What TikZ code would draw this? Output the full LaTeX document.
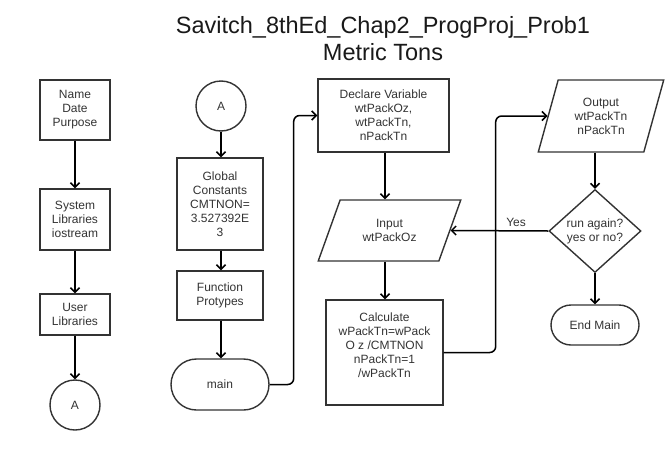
\documentclass[tikz,border=0pt]{standalone}
\usepackage{fontspec}
\setmainfont{Liberation Sans}
\usetikzlibrary{arrows.meta,shapes.geometric,shapes.misc}
\definecolor{ink}{HTML}{333333}
\begin{document}
\begin{tikzpicture}[x=1pt,y=-1pt,
  every node/.style={font=\fontsize{12}{14}\selectfont, text=ink, align=center, inner sep=2pt},
  procbox/.style={draw=ink, line width=1.4pt, rectangle},
  termbox/.style={draw=ink, line width=1.4pt, rounded rectangle},
  iobox/.style={draw=ink, line width=1.4pt, trapezium, trapezium stretches=true},
  decbox/.style={draw=ink, line width=1.4pt, diamond, inner sep=0pt},
  joint/.style={draw=ink, line width=1.4pt, circle, inner sep=0pt, minimum size=50pt},
  conn/.style={line width=1.5pt, draw=black, -{Straight Barb[length=4.5pt,width=9pt]}}
]
\useasboundingbox (0,0) rectangle (666,450);

% heading
\node[font=\fontsize{23.5}{27}\selectfont, text=black!90] (title) at (383,38.5)
  {Savitch\_8thEd\_Chap2\_ProgProj\_Prob1\\Metric Tons};

% header column
\node[procbox, minimum width=70pt, minimum height=60pt] (name) at (75,110) {Name\\Date\\Purpose};
\node[procbox, minimum width=70pt, minimum height=61pt] (sys) at (75,219.5) {System\\Libraries\\iostream};
\node[procbox, minimum width=70pt, minimum height=41pt] (user) at (75,314.5) {User\\Libraries};
\node[joint] (a1) at (75,405) {A};

% set-up column
\node[joint] (a2) at (221,106) {A};
\node[procbox, minimum width=86pt, minimum height=92pt] (glob) at (220,204)
  {Global\\Constants\\CMTNON=\\3.527392E\\3};
\node[procbox, minimum width=86pt, minimum height=49pt] (func) at (220,295.5) {Function\\Protypes};
\node[termbox, minimum width=102pt, minimum height=51pt] (main) at (220,384.5) {main};

% processing column
\node[procbox, minimum width=131pt, minimum height=73pt] (decl) at (383.5,115.5)
  {Declare Variable\\wtPackOz,\\wtPackTn,\\nPackTn};
\node[iobox, trapezium left angle=64, trapezium right angle=116,
  minimum width=143pt, minimum height=61pt] (inp) at (389.5,230.5) {Input\\wtPackOz};
\node[procbox, minimum width=117pt, minimum height=105pt, text depth=15pt] (calc) at (384.5,352.5)
  {Calculate\\wPackTn=wPack\\O z /CMTNON\\nPackTn=1\\/wPackTn};

% output column
\node[iobox, trapezium left angle=72, trapezium right angle=108,
  minimum width=126pt, minimum height=72pt] (out) at (601,116) {Output\\wtPackTn\\nPackTn};
\node[decbox, minimum width=92pt, minimum height=83pt] (dia) at (595,231) {run again?\\yes or no?};
\node[termbox, minimum width=92pt, minimum height=40pt] (endm) at (595,325) {End Main};

% connectors
\draw[conn] (name) -- (sys);
\draw[conn] (sys) -- (user);
\draw[conn] (user) -- (a1);

\draw[conn] (a2.south) -- (a2.south |- glob.north);
\draw[conn] (a2.south |- glob.south) -- (a2.south |- func.north);
\draw[conn] (a2.south |- func.south) -- (a2.south |- main.north);
\draw[conn, rounded corners=6pt] (main.east) -- ++(24,0) |- (decl.west);

\draw[conn] (385,0 |- decl.south) -- (385,0 |- inp.north);
\draw[conn] (385,0 |- inp.south) -- (385,0 |- calc.north);
\draw[conn, rounded corners=6pt] (calc.east) -- ++(52,0) |- (out.left side);

\draw[conn] (out.south -| dia.north) -- (dia.north);
\draw[conn] (dia.west) -- (inp.right side) node[pos=0.33, above=1pt] (yes) {Yes};
\draw[conn] (dia.south) -- (endm.north);
\end{tikzpicture}
\end{document}
